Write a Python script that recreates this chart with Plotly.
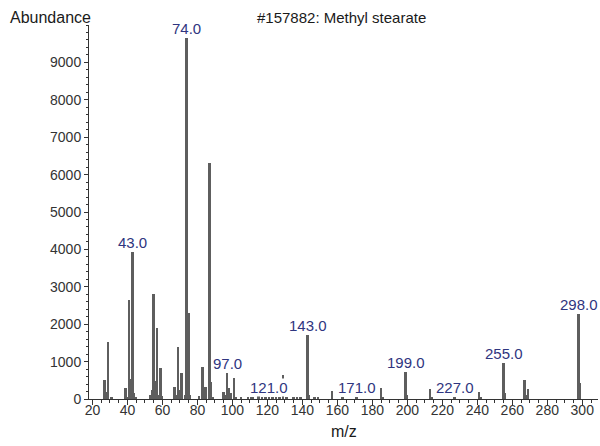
import plotly.graph_objects as go

# m/z values and abundances
mz = [27, 28, 29, 31, 39, 40, 41, 42, 43, 44, 45,
      53, 54, 55, 56, 57, 58, 59, 60, 67, 68, 69, 70, 71, 73, 74, 75, 76,
      81, 83, 84, 85, 87, 88, 89, 95, 96, 97, 98, 99, 101, 102,
      105, 109, 111, 112, 115, 117, 119, 121, 123, 125, 127, 129, 131,
      135, 137, 139, 143, 144, 147, 149, 157, 163, 171, 185, 186,
      199, 200, 213, 214, 227, 241, 242, 255, 256, 267, 268, 269, 298, 299]
abundance = [510, 200, 1530, 40, 285, 60, 2650, 530, 3940, 150, 60,
             100, 230, 2800, 480, 1890, 100, 820, 80, 310, 120, 1400, 230, 690, 100, 9650, 2310, 100,
             80, 850, 310, 310, 6310, 460, 60, 200, 120, 700, 285, 150, 570, 60,
             40, 60, 50, 40, 70, 40, 50, 60, 40, 50, 60, 640, 50,
             50, 40, 40, 1710, 120, 40, 40, 215, 40, 60, 300, 60,
             720, 110, 260, 50, 60, 200, 40, 950, 170, 510, 120, 260, 2270, 420]

labeled_mz = [43, 74, 97, 121, 143, 171, 199, 227, 255, 298]

y_ticks = [0, 1000, 2000, 3000, 4000, 5000, 6000, 7000, 8000, 9000]
x_ticks = [20, 40, 60, 80, 100, 120, 140, 160, 180, 200, 220, 240, 260, 280, 300]

title_text = "#157882: Methyl stearate"
y_title = "Abundance"
x_title = "m/z"

W, H = 600, 446
ML, MR, MT, MB = 89, 2, 25, 47
PW, PH = W - ML - MR, H - MT - MB


def px(xp):
    return (xp - ML) / PW


def py(yp):
    return 1 - (yp - MT) / PH


fig = go.Figure()
fig.add_trace(go.Bar(
    x=mz, y=abundance, width=1.1,
    marker=dict(color="#5e5e5e", line=dict(width=0)),
    hoverinfo="x+y",
))

lookup = dict(zip(mz, abundance))
label_color = "#2f3580"
for m in labeled_mz:
    fig.add_annotation(
        x=m, y=lookup[m], xref="x", yref="y",
        text=f"{m:.1f}", showarrow=False,
        xanchor="center", yanchor="bottom", yshift=0,
        font=dict(family="Liberation Sans, Arial", size=15, color=label_color),
        bgcolor="white", borderpad=0,
    )

txt_font = dict(family="Liberation Sans, Arial", color="#1a1a1a")
fig.add_annotation(xref="paper", yref="paper", x=px(8), y=py(18),
                   xanchor="left", yanchor="middle", showarrow=False,
                   text=y_title, font=dict(size=16, **txt_font))
fig.add_annotation(xref="paper", yref="paper", x=px(341), y=py(18),
                   xanchor="center", yanchor="middle", showarrow=False,
                   text=title_text, font=dict(size=15, **txt_font))
fig.add_annotation(xref="paper", yref="paper", x=px(344), y=py(432),
                   xanchor="center", yanchor="middle", showarrow=False,
                   text=x_title, font=dict(size=16, **txt_font))

fig.update_layout(
    width=W, height=H,
    margin=dict(l=ML, r=MR, t=MT, b=MB, pad=0),
    paper_bgcolor="white", plot_bgcolor="white",
    showlegend=False, bargap=0,
    font=dict(family="Liberation Sans, Arial", size=14, color="#333"),
)
fig.update_xaxes(
    range=[18, 309], tickvals=x_ticks, ticktext=[str(v) for v in x_ticks],
    showgrid=False, zeroline=False, showline=True, linecolor="#333", linewidth=1,
    ticks="outside", ticklen=5, tickcolor="#333", tickwidth=1,
    ticklabelstandoff=-7,
    minor=dict(dtick=5, tick0=0, ticks="outside", ticklen=3, tickcolor="#333"),
    tickfont=dict(size=14, color="#333"),
)
fig.update_yaxes(
    range=[0, 10000], tickvals=y_ticks, ticktext=[str(v) for v in y_ticks],
    showgrid=False, zeroline=False, showline=True, linecolor="#333", linewidth=1,
    ticks="outside", ticklen=4, tickcolor="#333", tickwidth=1,
    minor=dict(dtick=200, tick0=0, ticks="outside", ticklen=2, tickcolor="#333"),
    tickfont=dict(size=14, color="#333"),
)

fig.write_html("out.html")
